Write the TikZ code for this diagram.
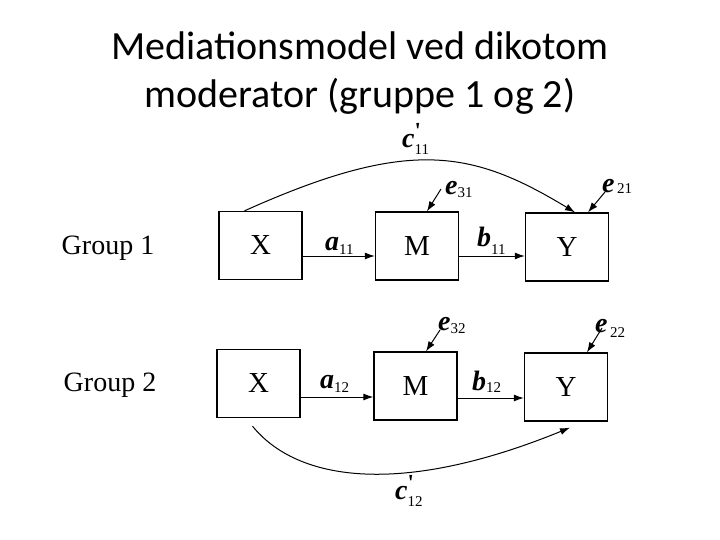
\documentclass[tikz,border=0pt]{standalone}
\usepackage{fontspec}
\setmainfont{Liberation Serif}
\newfontfamily\titlefont{Carlito}
\usetikzlibrary{arrows.meta}
\newcommand\pathlbl[3]{{\fontsize{28}{28}\selectfont\bfseries\itshape #1}\raisebox{-#3}{\fontsize{15}{15}\selectfont #2}}
\newcommand\pathlblp[3]{{\fontsize{28}{28}\selectfont\bfseries\itshape c}\rlap{\raisebox{9pt}{\fontsize{23}{23}\selectfont\bfseries\textquotesingle}}\raisebox{-#3}{\fontsize{15}{15}\selectfont #2}}
\begin{document}
\begin{tikzpicture}[x=1pt,y=-1pt,
  box/.style={draw, line width=1.3pt, minimum width=83pt, minimum height=68pt, inner sep=0pt, font=\fontsize{29}{29}\selectfont},
  grp/.style={inner sep=0pt, font=\fontsize{28}{28}\selectfont},
  arr/.style={-{Latex[length=10pt,width=7pt]}, line width=1pt},
  lab/.style={inner sep=0pt, anchor=base west},
  ttl/.style={inner sep=0pt, anchor=base, font=\titlefont\fontsize{40}{48}\selectfont},
]
\useasboundingbox[fill=white] (0,0) rectangle (720,540);
\node[ttl] (t1) at (360,60) {Mediationsmodel ved dikotom};
\node[ttl] (t2) at (360,108) {moderator (gruppe 1 og 2)};

\node[grp] (g1) at (108,248) {Group 1};
\node[grp] (g2) at (110,385) {Group 2};

\node[box] (X1) at (260.5,245.5) {X};
\node[box] (M1) at (417,246) {M};
\node[box] (Y1) at (567,247) {Y};
\node[box] (X2) at (258.5,383.5) {X};
\node[box] (M2) at (415.5,386) {M};
\node[box] (Y2) at (566,387) {Y};

% group 1
\draw[arr] ([yshift=-10.5pt]X1.east) -- ([yshift=-10pt]M1.west);
\draw[arr] ([yshift=-10pt]M1.east) -- ([yshift=-9pt]Y1.west);
\draw[arr] ([xshift=-16pt]X1.north) .. controls (409,137) and (472,150) .. ([xshift=8pt]Y1.north);
\coordinate (s31) at (441,189);
\coordinate (s21) at (605,192);
\draw[arr] (s31) -- ([xshift=10pt]M1.north);
\draw[arr] (s21) -- ([xshift=21pt]Y1.north);
\node[lab] (la11) at (325,250) {\pathlbl{a}{11}{5pt}};
\node[lab] (lb11) at (477,247) {\pathlbl{b}{11}{8pt}};
\node[lab] (lc11) at (402,148) {\pathlblp{c}{11}{7pt}};
\node[lab] (le31) at (445,195) {\pathlbl{e}{31}{2pt}};
\node[lab] (le21) at (602,193) {\pathlbl{e}{\,21}{1pt}};

% group 2
\draw[arr] ([yshift=-13.5pt]X2.east) -- ([yshift=-11pt]M2.west);
\draw[arr] ([yshift=-12pt]M2.east) -- ([yshift=-11pt]Y2.west);
\draw[arr] ([shift={(-6,8)}]X2.south) .. controls (297,481) and (400,497) .. ([shift={(4,6)}]Y2.south);
\coordinate (s32) at (440,330);
\coordinate (s22) at (602,328);
\draw[arr] (s32) -- ([xshift=10.5pt]M2.north);
\draw[arr] (s22) -- ([xshift=21pt]Y2.north);
\node[lab] (la12) at (320,388) {\pathlbl{a}{12}{4pt}};
\node[lab] (lb12) at (472,390) {\pathlbl{b}{12}{2pt}};
\node[lab] (lc12) at (395,499) {\pathlblp{c}{12}{7pt}};
\node[lab] (le32) at (438,330) {\pathlbl{e}{32}{3pt}};
\node[lab] (le22) at (595,332) {\pathlbl{e}{\,22}{5pt}};
\end{tikzpicture}
\end{document}
